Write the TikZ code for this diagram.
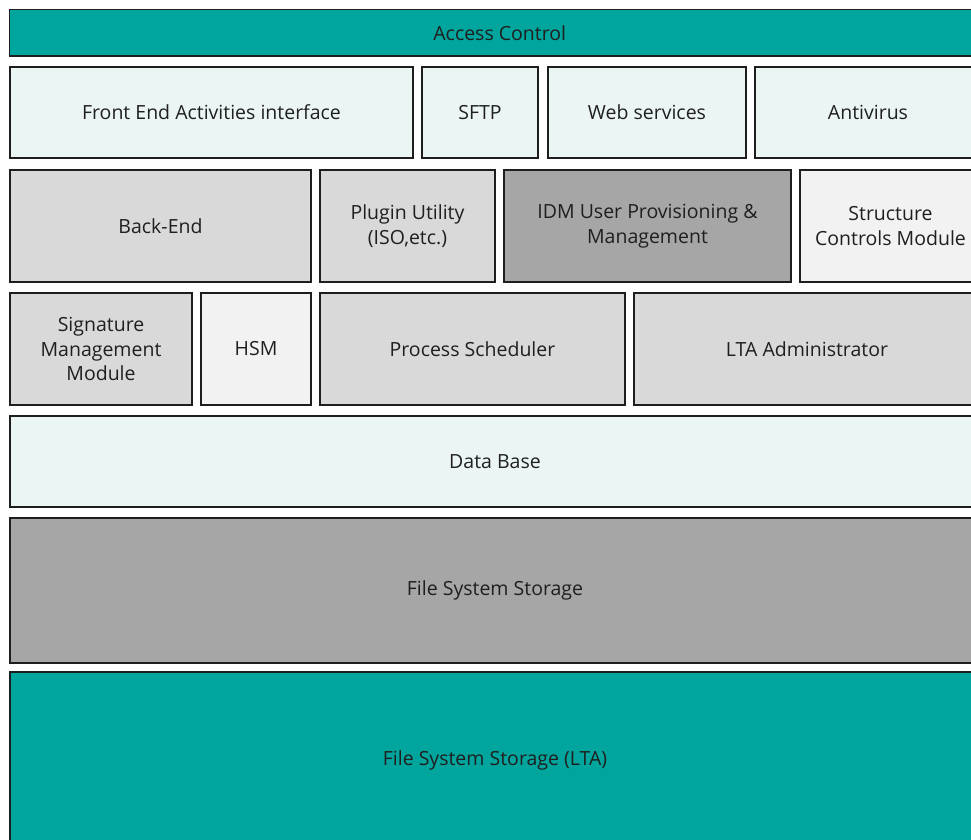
\documentclass[tikz,border=0pt]{standalone}
\usepackage{fontspec}
\setmainfont{Open Sans}
\definecolor{teal1}{HTML}{00A59D}
\definecolor{pale}{HTML}{EBF5F4}
\definecolor{grey1}{HTML}{D9D9D9}
\definecolor{grey2}{HTML}{A6A6A6}
\definecolor{grey3}{HTML}{F2F2F2}
\definecolor{edge}{HTML}{1E1E1E}
\tikzset{
  blk/.style={draw=edge, line width=1.6pt, inner sep=0pt, outer sep=0pt, anchor=north west,
    align=center, text=black!88, font=\fontsize{19.5}{24.5}\selectfont}
}
\newcommand{\blkat}[7]{%
  \node[blk, fill=#6, minimum width={(#4-#2)*1pt}, minimum height={(#5-#3)*1pt}] (#1) at (#2,#3) {#7};}
\begin{document}
\begin{tikzpicture}[x=1pt,y=-1pt]
\clip (0,0) rectangle (971,839);
\fill[white] (0,0) rectangle (971,839);
\blkat{access}{9.5}{9.5}{990}{56}{teal1}{Access Control}
\blkat{front}{10}{67}{413}{158}{pale}{Front End Activities interface}
\blkat{sftp}{422}{67}{538}{158}{pale}{SFTP}
\blkat{web}{548}{67}{746}{158}{pale}{Web services}
\blkat{anti}{755}{67}{981}{158}{pale}{Antivirus}
\blkat{back}{10}{170}{311}{282}{grey1}{Back-End}
\blkat{plugin}{320}{170}{495}{282}{grey1}{Plugin Utility\\(ISO,etc.)}
\blkat{idm}{504}{170}{791}{282}{grey2}{IDM User Provisioning \&\\Management}
\blkat{struct}{800}{170}{981}{282}{grey3}{Structure\\Controls Module}
\blkat{sig}{10}{293}{192}{405}{grey1}{Signature\\Management\\Module}
\blkat{hsm}{201}{293}{311}{405}{grey3}{HSM}
\blkat{proc}{320}{293}{625}{405}{grey1}{Process Scheduler}
\blkat{ltaadm}{634}{293}{980}{405}{grey1}{LTA Administrator}
\blkat{db}{10}{416}{980}{507}{pale}{Data Base}
\blkat{fss}{10}{518}{980}{663}{grey2}{File System Storage}
\blkat{lta}{10}{672}{980}{848}{teal1}{File System Storage (LTA)}
\end{tikzpicture}
\end{document}
